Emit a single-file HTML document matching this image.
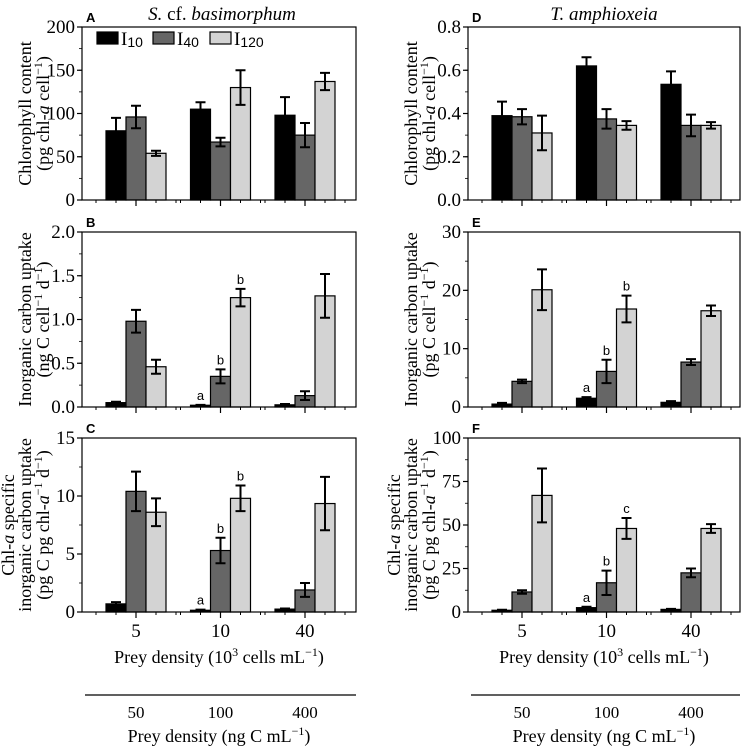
<!DOCTYPE html>
<html><head><meta charset="utf-8"><style>
html,body{margin:0;padding:0;background:#fff}
svg{display:block;font-family:"Liberation Serif",serif}
.sans{font-family:"Liberation Sans",sans-serif}
</style></head><body>
<svg id="fig" width="742" height="749" viewBox="0 0 742 749" xmlns="http://www.w3.org/2000/svg"></svg>
<script>
const groups=["5","10","40"];
const groups2=["50","100","400"];
const series=["I10","I40","I120"];
const colors=["#000000","#666666","#d3d3d3"];
// Panel A
const aVals=[[80,105,98],[96,67,75],[54,130,137]];
const aErr=[[15,8,21],[13,5,14],[3,20,10]];
// Panel B
const bVals=[[0.05,0.02,0.025],[0.98,0.35,0.13],[0.46,1.25,1.27]];
const bErr=[[0.01,0.005,0.01],[0.13,0.08,0.05],[0.08,0.1,0.25]];
const bLet=[[null,"a",null],[null,"b",null],[null,"b",null]];
// Panel C
const cVals=[[0.7,0.15,0.25],[10.4,5.3,1.9],[8.6,9.8,9.35]];
const cErr=[[0.15,0.05,0.05],[1.7,1.1,0.6],[1.2,1.1,2.3]];
const cLet=[[null,"a",null],[null,"b",null],[null,"b",null]];
// Panel D
const dVals=[[0.39,0.62,0.535],[0.385,0.375,0.345],[0.31,0.345,0.345]];
const dErr=[[0.065,0.04,0.06],[0.035,0.045,0.05],[0.08,0.02,0.015]];
// Panel E
const eVals=[[0.5,1.5,0.8],[4.4,6.1,7.7],[20.1,16.8,16.5]];
const eErr=[[0.2,0.2,0.2],[0.3,2,0.5],[3.5,2.3,0.9]];
const eLet=[[null,"a",null],[null,"b",null],[null,"b",null]];
// Panel F
const fVals=[[1,2.5,1.5],[11.5,16.8,22.5],[67,48,48]];
const fErr=[[0.3,0.5,0.3],[1,7,2.5],[15.5,6,2.5]];
const fLet=[[null,"a",null],[null,"b",null],[null,"c",null]];

const aTicks=[0,50,100,150,200], bTicks=["0.0","0.5","1.0","1.5","2.0"], cTicks=[0,5,10,15];
const dTicks=["0.0","0.2","0.4","0.6","0.8"], eTicks=[0,10,20,30], fTicks=[0,25,50,75,100];

const svg=document.getElementById('fig');
const NS="http://www.w3.org/2000/svg";
function mk(tag,attrs,parent,text){const e=document.createElementNS(NS,tag);for(const k in attrs)e.setAttribute(k,attrs[k]);if(text!==undefined)e.textContent=text;(parent||svg).appendChild(e);return e;}

function panel(id,x0,x1,y0,y1,ymax,ticks,vals,errs,lets,minorStep,letter,ylabLines,labX){
  const g=mk('g',{},svg);
  
  
  const ys=v=>y1-(v/ymax)*(y1-y0);
  const xc=i=>x0+54+i*84.5;
  for(let s=0;s<3;s++)for(let i=0;i<3;i++){
    const v=vals[s][i],e=errs[s][i];
    const bx=xc(i)-30+s*20;
    const r=mk('rect',{x:bx,y:ys(v),width:20,height:y1-ys(v),fill:colors[s],stroke:'#000','stroke-width':1.2},g);
    
    
    const cx=bx+10;
    mk('path',{d:`M${cx},${ys(v-e)}V${ys(v+e)}M${cx-5},${ys(v+e)}H${cx+5}M${cx-5},${ys(v-e)}H${cx+5}`,stroke:'#000','stroke-width':2,fill:'none'},g);
    if(lets&&lets[s][i]){
      const t=mk('text',{x:cx,y:ys(v+e)-5,'text-anchor':'middle','font-size':13,class:'sans'},g,lets[s][i]);
      
      
    }
  }
  mk('rect',{x:x0,y:y0,width:x1-x0,height:y1-y0,fill:'none',stroke:'#000','stroke-width':1.2},g);
  for(let i=0;i<3;i++){
    mk('line',{x1:xc(i),x2:xc(i),y1:y1,y2:y1+6,stroke:'#000','stroke-width':1.2},g);
    for(const d of [-40,-20,20,40]){const xx=xc(i)+d;if(xx>x0&&xx<x1)mk('line',{x1:xx,x2:xx,y1:y1,y2:y1+3,stroke:'#000','stroke-width':1},g);}
  }
  ticks.forEach(t=>{const v=parseFloat(t),yy=ys(v);
    mk('line',{x1:x0-5,x2:x0,y1:yy,y2:yy,stroke:'#000','stroke-width':1.2},g);
    const tl=mk('text',{x:x0-7,y:yy+6,'text-anchor':'end','font-size':19},g,String(t));
    
    
  });
  for(let v=0;v<=ymax+1e-9;v+=minorStep){const yy=ys(v);mk('line',{x1:x0,x2:x0-3,y1:yy,y2:yy,stroke:'#000','stroke-width':0.8},g);}
  const pl=mk('text',{x:x0+4,y:y0-5,'font-size':13,'font-weight':'bold',class:'sans'},g,letter);
  
  
  const cy=(y0+y1)/2;
  ylabLines.forEach((ln,k)=>{
    const t=mk('text',{transform:`translate(${labX[k]},${cy}) rotate(-90)`,'text-anchor':'middle','font-size':18},g);
    t.innerHTML=ln;
    
    
  });
  return xc;
}
const sup=s=>`<tspan baseline-shift="super" font-size="12">${s}</tspan>`;
const xcL=panel('A',82,356,27,200,200,aTicks,aVals,aErr,null,25,'A',['Chlorophyll content','(pg chl-<tspan font-style="italic">a</tspan> cell'+sup('−1')+')'],[31,49]);
panel('B',82,356,232,407,2,bTicks,bVals,bErr,bLet,0.25,'B',['Inorganic carbon uptake','(ng C cell'+sup('−1')+' d'+sup('−1')+')'],[31,49]);
panel('C',82,356,438,612,15,cTicks,cVals,cErr,cLet,2.5,'C',['Chl-<tspan font-style="italic">a</tspan> specific','inorganic carbon uptake','(pg C pg chl-<tspan font-style="italic">a</tspan>'+sup('−1')+' d'+sup('−1')+')'],[14,31,49]);
const xcR=panel('D',468,740,27,200,0.8,dTicks,dVals,dErr,null,0.1,'D',['Chlorophyll content','(pg chl-<tspan font-style="italic">a</tspan> cell'+sup('−1')+')'],[417,435]);
panel('E',468,740,232,407,30,eTicks,eVals,eErr,eLet,5,'E',['Inorganic carbon uptake','(pg C cell'+sup('−1')+' d'+sup('−1')+')'],[417,435]);
panel('F',468,740,438,612,100,fTicks,fVals,fErr,fLet,12.5,'F',['Chl-<tspan font-style="italic">a</tspan> specific','inorganic carbon uptake','(pg C pg chl-<tspan font-style="italic">a</tspan>'+sup('−1')+' d'+sup('−1')+')'],[400,417,435]);

let t=mk('text',{x:222,y:20,'text-anchor':'middle','font-size':19},svg);t.innerHTML='<tspan font-style="italic">S.</tspan> cf. <tspan font-style="italic">basimorphum</tspan>';

t=mk('text',{x:604,y:20,'text-anchor':'middle','font-size':19,'font-style':'italic'},svg,'T. amphioxeia');


const legX=[97,153,210], legT=['10','40','120'];
for(let s=0;s<3;s++){
  const lg=mk('g',{},svg);
  
  
  mk('rect',{x:legX[s],y:32,width:21,height:12,fill:colors[s],stroke:'#000','stroke-width':1.2},lg);
  const tt=mk('text',{x:legX[s]+24,y:45,'font-size':19},lg);
  tt.innerHTML='I<tspan font-size="14" font-family="Liberation Sans" baseline-shift="-2">'+legT[s]+'</tspan>';
}

function bottom(xc,x0,x1,side){
  for(let i=0;i<3;i++){
    let a=mk('text',{x:xc(i),y:637,'text-anchor':'middle','font-size':19},svg,groups[i]);
    
    a=mk('text',{x:xc(i),y:718,'text-anchor':'middle','font-size':17},svg,groups2[i]);
    
  }
  const mid=(x0+x1)/2;
  let a=mk('text',{x:mid,y:663,'text-anchor':'middle','font-size':18},svg);
  a.innerHTML='Prey density (10'+sup('3')+' cells mL'+sup('−1')+')';
  
  const l=mk('line',{x1:x0+3,x2:x1,y1:695,y2:695,stroke:'#000','stroke-width':1.3},svg);
  
  a=mk('text',{x:mid,y:742,'text-anchor':'middle','font-size':18},svg);
  a.innerHTML='Prey density (ng C mL'+sup('−1')+')';
  
}
bottom(xcL,82,356,'left');
bottom(xcR,468,740,'right');
</script>
</body></html>
